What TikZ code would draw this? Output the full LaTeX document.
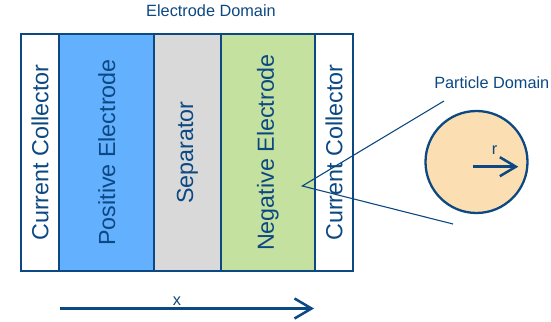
\documentclass[tikz,border=0pt]{standalone}
\usepackage{fontspec}
\setmainfont{Liberation Sans}
\usetikzlibrary{positioning, arrows.meta}
\definecolor{ink}{RGB}{12,72,130}
\definecolor{posfill}{RGB}{99,176,255}
\definecolor{sepfill}{RGB}{217,217,217}
\definecolor{negfill}{RGB}{197,225,160}
\definecolor{partfill}{RGB}{251,222,178}
\begin{document}
\begin{tikzpicture}[
        x=1pt, y=1pt,
        every node/.style={text=ink, font=\fontsize{16.3}{18}\selectfont},
        layer/.style={draw=ink, line width=2.2pt, minimum height=237pt, outer sep=0pt, inner sep=0pt, font=\fontsize{23.3}{26}\selectfont},
        callout/.style={draw=ink, line width=1.1pt},
        arrow/.style={-{Straight Barb[length=17pt, width=20pt]}, draw=ink, line width=2.5pt}
      ]
    \useasboundingbox (0,0) rectangle (551,321);

    \node[layer, minimum width=38.3pt] (ccleft) at (40.15,168.5) {\rotatebox{90}{Current Collector}};
    \node[layer, fill=posfill, minimum width=95pt, right=0pt of ccleft] (pos) {\rotatebox{90}{Positive Electrode}};
    \node[layer, fill=sepfill, minimum width=66.4pt, right=0pt of pos] (sep) {\rotatebox{90}{Separator}};
    \node[layer, fill=negfill, minimum width=94.3pt, right=0pt of sep] (neg) {\rotatebox{90}{Negative Electrode}};
    \node[layer, minimum width=38pt, right=0pt of neg] (ccright) {\rotatebox{90}{Current Collector}};
    \node (elabel) at (211,310) {Electrode Domain};

    \node[circle, draw=ink, fill=partfill, line width=2.3pt, minimum size=102pt] (part) at (476.5,159) {};
    \node[anchor=east, inner sep=1pt] (plabel) at (550.5,238) {Particle Domain};

    % zoom lines from the electrode to the particle
    \coordinate (zoomtip) at (302.3,135);
    \coordinate (ctop) at (444,220);
    \coordinate (cbot) at (453,97);
    \draw[callout] (ctop) -- (zoomtip) -- (cbot);

    % radial axis
    \coordinate (rstart) at (472.7,154.3);
    \coordinate (rend) at (518.3,154.3);
    \draw[arrow, {-{Straight Barb[length=16pt, width=19pt]}}] (rstart) -- (rend);
    \node (rlabel) at (494.5,171) {r};

    % through-plane axis
    \coordinate (xstart) at (60,12.5);
    \coordinate (xend) at (314,12.5);
    \draw[arrow] (xstart) -- (xend);
    \node (xlabel) at (177,19.5) {x};
\end{tikzpicture}
\end{document}
